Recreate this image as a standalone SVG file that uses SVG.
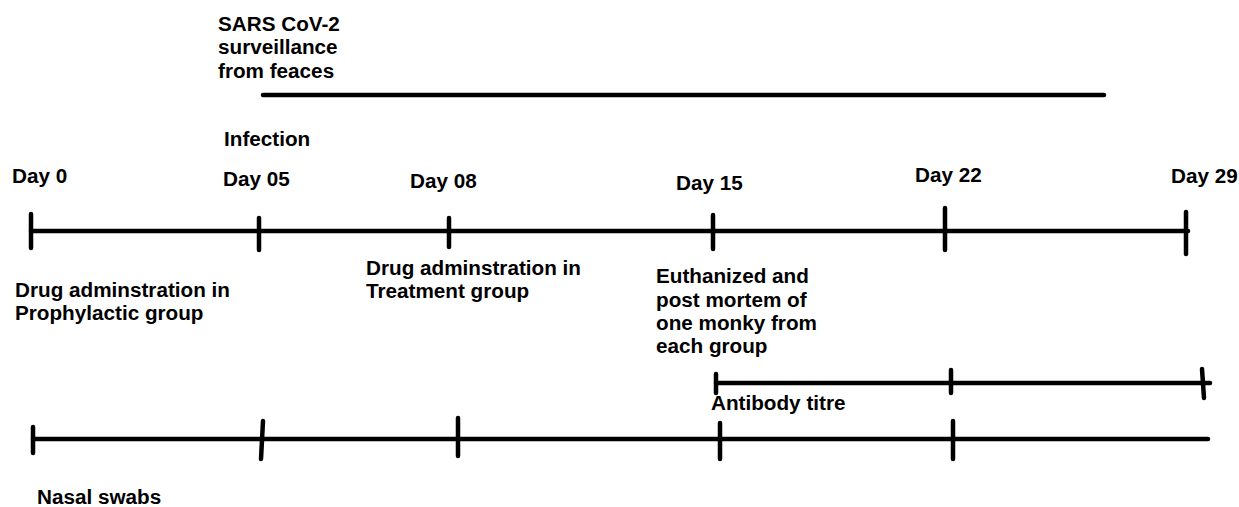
<svg xmlns="http://www.w3.org/2000/svg" width="1239" height="507" viewBox="0 0 1239 507">
<style>
text{font-family:"Liberation Sans",Arial,sans-serif;font-weight:bold;font-size:20.7px;fill:#000}
.ln{stroke:#000;stroke-width:4.5;stroke-linecap:round;fill:none}
</style>
<rect width="1239" height="507" fill="#fff"/>
<g id="connectors">
<line class="ln" x1="263" y1="95" x2="1104" y2="95"/>
<line class="ln" x1="31" y1="231" x2="1188" y2="231"/>
<line class="ln" x1="716" y1="383" x2="1210" y2="383"/>
<line class="ln" x1="33" y1="439" x2="1208" y2="439"/>
</g>
<g id="ticks-main">
<line class="ln" x1="31" y1="214" x2="31" y2="248"/>
<line class="ln" x1="259" y1="218" x2="259" y2="250"/>
<line class="ln" x1="449" y1="218" x2="449" y2="247"/>
<line class="ln" x1="713" y1="215" x2="713" y2="249"/>
<line class="ln" x1="945" y1="208" x2="945" y2="250"/>
<line class="ln" x1="1186" y1="212" x2="1186" y2="254"/>
</g>
<g id="ticks-antibody">
<line class="ln" x1="716" y1="374" x2="716" y2="393"/>
<line class="ln" x1="951" y1="370" x2="951" y2="393"/>
<line class="ln" x1="1202" y1="369" x2="1204" y2="398"/>
</g>
<g id="ticks-nasal">
<line class="ln" x1="33" y1="427" x2="33" y2="453"/>
<line class="ln" x1="263" y1="421" x2="261" y2="459"/>
<line class="ln" x1="458" y1="418" x2="458" y2="456"/>
<line class="ln" x1="720" y1="423" x2="720" y2="459"/>
<line class="ln" x1="953" y1="421" x2="953" y2="459"/>
</g>
<g id="surveillance"><text x="218" y="31">SARS CoV-2</text><text x="218" y="54">surveillance</text><text x="218" y="78">from feaces</text></g>
<g id="infection"><text x="224" y="146">Infection</text></g>
<g id="day0"><text x="12" y="183">Day 0</text></g>
<g id="day05"><text x="223" y="186">Day 05</text></g>
<g id="day08"><text x="410" y="188">Day 08</text></g>
<g id="day15"><text x="676" y="190">Day 15</text></g>
<g id="day22"><text x="915" y="182">Day 22</text></g>
<g id="day29"><text x="1171" y="183">Day 29</text></g>
<g id="prophylactic"><text x="15" y="297">Drug adminstration in</text><text x="15" y="320">Prophylactic group</text></g>
<g id="treatment"><text x="366" y="275">Drug adminstration in</text><text x="366" y="298">Treatment group</text></g>
<g id="euthanized"><text x="656" y="283">Euthanized and</text><text x="656" y="307">post mortem of</text><text x="656" y="330">one monky from</text><text x="656" y="353">each group</text></g>
<g id="antibody"><text x="711" y="410">Antibody titre</text></g>
<g id="nasal"><text x="37" y="504">Nasal swabs</text></g>
</svg>
